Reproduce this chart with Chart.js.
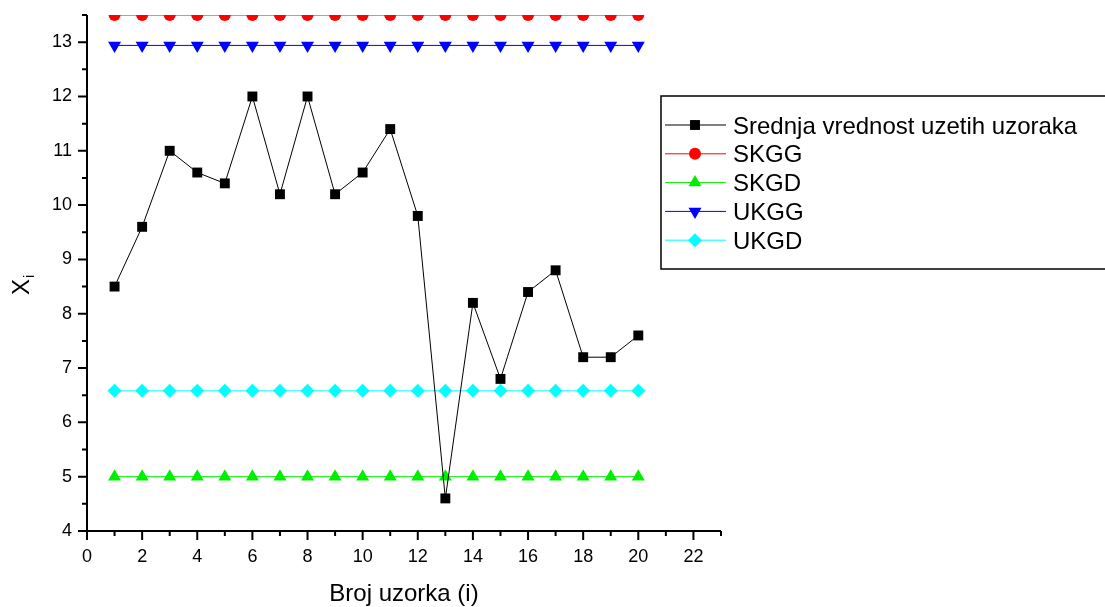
<!DOCTYPE html>
<html>
<head>
<meta charset="utf-8">
<script src="https://cdn.jsdelivr.net/npm/chart.js@4/dist/chart.umd.min.js"></script>
<style>
  html, body { margin: 0; padding: 0; background: #fff; }
  #wrap { width: 1105px; height: 607px; }
</style>
</head>
<body>
<div id="wrap"><canvas id="myChart"></canvas></div>
<script>
"use strict";

const samples = [1, 2, 3, 4, 5, 6, 7, 8, 9, 10, 11, 12, 13, 14, 15, 16, 17, 18, 19, 20];
const meanValues = [8.5, 9.6, 11, 10.6, 10.4, 12, 10.2, 12, 10.2, 10.6, 11.4, 9.8, 4.6, 8.2, 6.8, 8.4, 8.8, 7.2, 7.2, 7.6];
const skgg = [13.5, 13.5, 13.5, 13.5, 13.5, 13.5, 13.5, 13.5, 13.5, 13.5, 13.5, 13.5, 13.5, 13.5, 13.5, 13.5, 13.5, 13.5, 13.5, 13.5];
const skgd = [5, 5, 5, 5, 5, 5, 5, 5, 5, 5, 5, 5, 5, 5, 5, 5, 5, 5, 5, 5];
const ukgg = [12.94, 12.94, 12.94, 12.94, 12.94, 12.94, 12.94, 12.94, 12.94, 12.94, 12.94, 12.94, 12.94, 12.94, 12.94, 12.94, 12.94, 12.94, 12.94, 12.94];
const ukgd = [6.58, 6.58, 6.58, 6.58, 6.58, 6.58, 6.58, 6.58, 6.58, 6.58, 6.58, 6.58, 6.58, 6.58, 6.58, 6.58, 6.58, 6.58, 6.58, 6.58];

const seriesNames = ["Srednja vrednost uzetih uzoraka", "SKGG", "SKGD", "UKGG", "UKGD"];

const xMajorTicks = [0, 2, 4, 6, 8, 10, 12, 14, 16, 18, 20, 22];
const xMinorTicks = [1, 3, 5, 7, 9, 11, 13, 15, 17, 19, 21, 23];
const yMajorTicks = [4, 5, 6, 7, 8, 9, 10, 11, 12, 13];
const yMinorTicks = [4.5, 5.5, 6.5, 7.5, 8.5, 9.5, 10.5, 11.5, 12.5, 13.5];

const FONT = "'Liberation Sans', Arial, sans-serif";
Chart.defaults.font.family = FONT;
Chart.defaults.color = "#000";

function toPoints(values) {
  return samples.map((x, i) => ({ x: x, y: values[i] }));
}

function series(label, values, color, style, radius, rotation) {
  return {
    label: label,
    data: toPoints(values),
    borderColor: color,
    backgroundColor: color,
    borderWidth: 1,
    pointStyle: style,
    pointRadius: radius,
    pointRotation: rotation || 0,
    pointBackgroundColor: color,
    pointBorderWidth: 0,
    pointHoverRadius: radius,
    tension: 0,
    clip: 0,
  };
}

const datasets = [
  series(seriesNames[0], meanValues, "#000000", "rect", 7),
  series(seriesNames[1], skgg, "#ff0000", "circle", 6),
  series(seriesNames[2], skgd, "#00ee00", "triangle", 7.5),
  series(seriesNames[3], ukgg, "#0000ff", "triangle", 7.5, 180),
  series(seriesNames[4], ukgd, "#00ffff", "rectRot", 7),
];

const originPlugin = {
  id: "originStyle",
  afterDraw(chart) {
    const { ctx, chartArea: a, scales: { x, y } } = chart;
    ctx.save();

    // axes with major and minor ticks
    ctx.strokeStyle = "#000";
    ctx.lineWidth = 2;
    ctx.beginPath();
    ctx.moveTo(a.left, a.top);
    ctx.lineTo(a.left, a.bottom);
    ctx.lineTo(a.right, a.bottom);
    xMajorTicks.forEach((v) => {
      const px = x.getPixelForValue(v);
      ctx.moveTo(px, a.bottom);
      ctx.lineTo(px, a.bottom + 9);
    });
    xMinorTicks.forEach((v) => {
      const px = x.getPixelForValue(v);
      ctx.moveTo(px, a.bottom);
      ctx.lineTo(px, a.bottom + 5);
    });
    yMajorTicks.forEach((v) => {
      const py = y.getPixelForValue(v);
      ctx.moveTo(a.left, py);
      ctx.lineTo(a.left - 9, py);
    });
    yMinorTicks.forEach((v) => {
      const py = y.getPixelForValue(v);
      ctx.moveTo(a.left, py);
      ctx.lineTo(a.left - 5, py);
    });
    ctx.stroke();

    // axis titles
    ctx.fillStyle = "#000";
    ctx.font = "24px " + FONT;
    ctx.textAlign = "center";
    ctx.textBaseline = "alphabetic";
    ctx.fillText("Broj uzorka (i)", (a.left + a.right) / 2, 601);

    ctx.save();
    ctx.translate(29, 287);
    ctx.rotate(-Math.PI / 2);
    ctx.textAlign = "center";
    ctx.fillText("X", 0, 0);
    ctx.font = "14px " + FONT;
    ctx.textAlign = "left";
    ctx.fillText("i", 9, 5);
    ctx.restore();

    // legend
    const lx = 661, ly = 96, lw = 450, lh = 173;
    ctx.lineWidth = 1.5;
    ctx.strokeRect(lx, ly, lw, lh);
    ctx.font = "24px " + FONT;
    ctx.textAlign = "left";
    chart.data.datasets.forEach((ds, i) => {
      const cy = 125 + i * 28.8;
      ctx.strokeStyle = ds.borderColor;
      ctx.fillStyle = ds.backgroundColor;
      ctx.lineWidth = 1;
      ctx.beginPath();
      ctx.moveTo(665, cy);
      ctx.lineTo(726, cy);
      ctx.stroke();
      Chart.helpers.drawPoint(ctx, {
        pointStyle: ds.pointStyle,
        radius: ds.pointRadius,
        rotation: ds.pointRotation,
        borderWidth: 0,
      }, 695, cy);
      ctx.fillStyle = "#000";
      ctx.fillText(ds.label, 733, cy + 8.5);
    });

    ctx.restore();
  },
};

new Chart("myChart", {
  type: "line",
  data: { datasets: datasets },
  options: {
    responsive: true,
    maintainAspectRatio: false,
    animation: false,
    events: [],
    layout: { padding: { top: 15, right: 384, left: 0, bottom: 0 } },
    plugins: {
      legend: { display: false },
      tooltip: { enabled: false },
    },
    scales: {
      x: {
        type: "linear",
        min: 0,
        max: 23,
        grid: { display: false, drawTicks: false },
        border: { display: false },
        afterBuildTicks: (s) => { s.ticks = xMajorTicks.map((v) => ({ value: v })); },
        afterFit: (s) => { s.height = 76; s.paddingLeft = 0; s.paddingRight = 0; },
        ticks: { font: { size: 18 }, padding: 15, maxRotation: 0, autoSkip: false },
      },
      y: {
        type: "linear",
        min: 4,
        max: 13.5,
        grid: { display: false, drawTicks: false },
        border: { display: false },
        afterBuildTicks: (s) => { s.ticks = yMajorTicks.map((v) => ({ value: v })); },
        afterFit: (s) => { s.width = 87; s.paddingTop = 0; s.paddingBottom = 0; },
        ticks: { font: { size: 18 }, padding: 15, autoSkip: false },
      },
    },
  },
  plugins: [originPlugin],
});
</script>
</body>
</html>
